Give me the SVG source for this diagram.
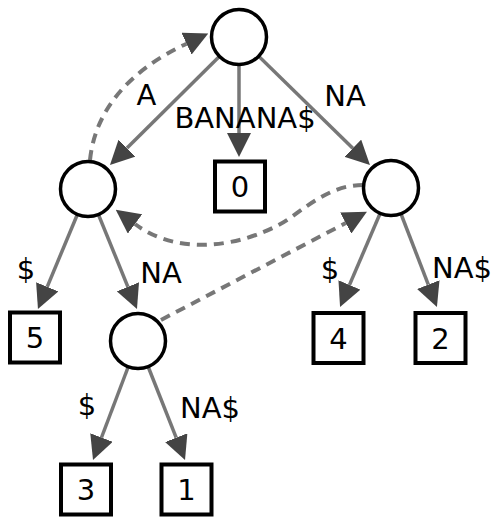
<svg xmlns="http://www.w3.org/2000/svg" width="500" height="530" viewBox="0 0 500 530">
<style>
.edge{stroke:#777;stroke-width:3.5;fill:none;marker-end:url(#ah)}
.link{stroke:#777;stroke-width:4;fill:none;stroke-dasharray:10 7;marker-end:url(#ah)}
.node{fill:#fff;stroke:#000;stroke-width:3.5}
.leaf{fill:#fff;stroke:#000;stroke-width:4}
text{font-family:"DejaVu Sans","Liberation Sans",sans-serif;font-size:29px;fill:#000;text-anchor:middle}
</style>
<defs>
<marker id="ah" markerUnits="userSpaceOnUse" markerWidth="24" markerHeight="24" viewBox="0 0 24 24" refX="0" refY="12" orient="auto">
<path d="M0,0 L24,12 L0,24 z" fill="#444"/>
</marker>
</defs>
<rect width="500" height="530" fill="#fff"/>
<g id="connectors">
<line class="edge" x1="239" y1="37" x2="127" y2="148.1"/>
<line class="edge" x1="239" y1="37" x2="239" y2="133"/>
<line class="edge" x1="239" y1="37" x2="352.8" y2="148.2"/>
<line class="edge" x1="88" y1="189" x2="47.2" y2="286.8"/>
<line class="edge" x1="88" y1="189" x2="127.9" y2="286.8"/>
<line class="edge" x1="391" y1="188" x2="349.5" y2="284.9"/>
<line class="edge" x1="391" y1="188" x2="428.3" y2="284.6"/>
<line class="edge" x1="138" y1="341" x2="101.5" y2="437.5"/>
<line class="edge" x1="138" y1="341" x2="176.2" y2="437.7"/>
<path class="link" d="M90 160 C95 110 130 70 186.5 43.7"/>
<path class="link" d="M363 185 C335 185 315 200 290 218 S190 265 135 224"/>
<path class="link" d="M161 320 L345.7 223"/>
<text x="146.5" y="105">A</text>
<text x="245" y="128">BANANA$</text>
<text x="345" y="106">NA</text>
<text x="26" y="279">$</text>
<text x="161" y="283">NA</text>
<text x="330" y="279">$</text>
<text x="462" y="278">NA$</text>
<text x="87" y="415">$</text>
<text x="210" y="418">NA$</text>
</g>
<g id="root"><circle class="node" cx="239" cy="37" r="27.5"/></g>
<g id="nA"><circle class="node" cx="88" cy="189" r="27.5"/></g>
<g id="nNA"><circle class="node" cx="391" cy="188" r="27.5"/></g>
<g id="nANA"><circle class="node" cx="138" cy="341" r="27.5"/></g>
<g id="leaf0"><rect class="leaf" x="215" y="161.5" width="50" height="50"/><text x="240" y="197">0</text></g>
<g id="leaf5"><rect class="leaf" x="10" y="312.5" width="50" height="50"/><text x="35" y="348">5</text></g>
<g id="leaf4"><rect class="leaf" x="313.5" y="313" width="50" height="50"/><text x="338.5" y="348.5">4</text></g>
<g id="leaf2"><rect class="leaf" x="415.5" y="313" width="50" height="50"/><text x="440.5" y="348.5">2</text></g>
<g id="leaf3"><rect class="leaf" x="61" y="464.5" width="50" height="50"/><text x="86" y="500">3</text></g>
<g id="leaf1"><rect class="leaf" x="161.5" y="464.5" width="50" height="50"/><text x="186.5" y="500">1</text></g>
</svg>
